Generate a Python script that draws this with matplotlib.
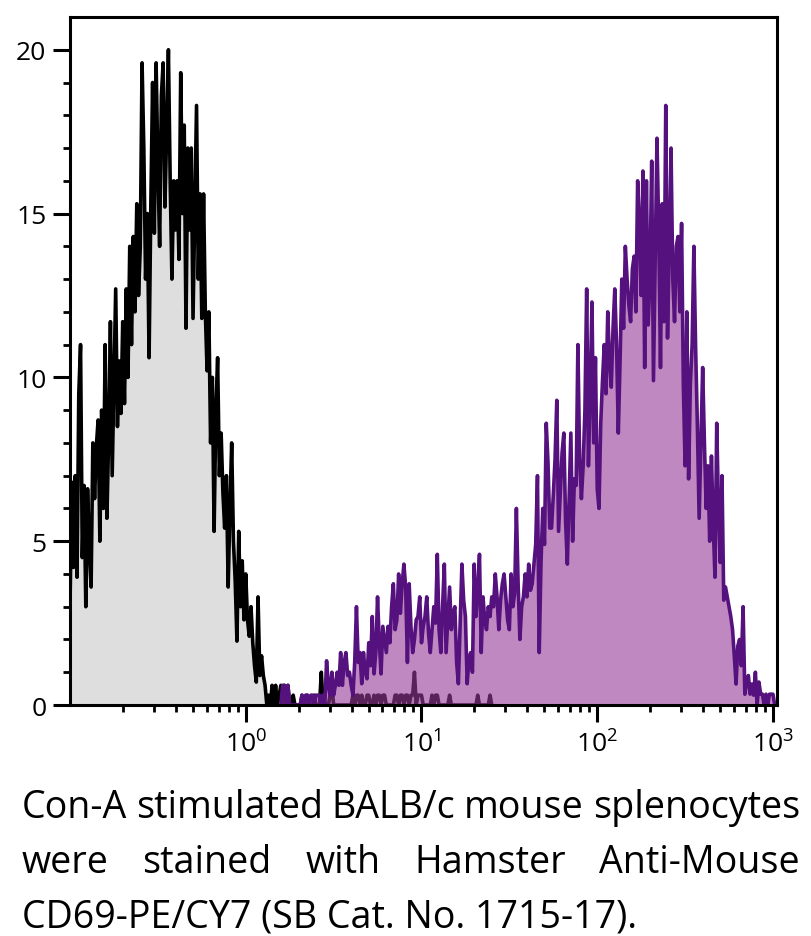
import numpy as np
import matplotlib
matplotlib.use("Agg")
import matplotlib.pyplot as plt
from matplotlib.ticker import FixedLocator, LogLocator, NullFormatter

plt.rcParams['font.family'] = ['Open Sans', 'DejaVu Sans']
plt.rcParams['mathtext.default'] = 'regular'

# --- histogram channels: 100 channels per decade, channel 0 = 10^-1 ---
CH_PER_DECADE = 100
CH0_EXP = -1

# unstained / control (grey), channel 0 ...
gray_counts = [
    3.0, 6.8, 4.2, 7.0, 3.9, 9.5, 11.0, 4.5, 6.7, 3.0,
    6.6, 4.8, 3.6, 8.0, 6.3, 7.9, 8.7, 5.0, 9.0, 6.0,
    11.0, 5.7, 8.2, 11.7, 7.0, 9.8, 12.7, 8.5, 10.5, 8.9,
    11.7, 9.2, 12.7, 10.0, 14.0, 11.0, 14.3, 12.0, 15.3, 12.5,
    14.0, 19.6, 17.0, 13.0, 15.0, 10.6, 15.3, 19.0, 14.4, 19.6,
    16.5, 14.0, 18.6, 19.6, 15.2, 17.5, 20.0, 16.0, 13.0, 16.0,
    14.5, 16.0, 13.6, 19.3, 15.0, 17.7, 11.5, 17.0, 14.5, 17.0,
    11.8, 15.0, 18.3, 13.0, 15.6, 11.8, 15.6, 12.0, 10.2, 12.0,
    8.0, 10.0, 5.3, 9.0, 10.6, 7.0, 8.3, 6.5, 5.4, 7.0,
    3.6, 6.0, 8.0, 5.0, 3.8, 1.95, 5.3, 3.0, 4.4, 2.6,
    4.0, 2.6, 2.1, 3.0, 1.9, 1.2, 0.7, 3.3, 0.9, 1.5,
    0.9, 0.6, 0.0, 0.3, 0.0, 0.6, 0.0, 0.6, 0.0, 0.3,
    0.6, 0.0, 0.6, 0.3, 0.6, 0.0, 0.0, 0.3, 0.0, 0.0,
    0.0, 0.0, 0.3, 0.0, 0.0, 0.3, 0.0, 0.0, 0.0, 0.3,
    0.0, 0.0, 0.0, 1.0, 0.0, 0.0, 0.0, 0.0, 0.3, 0.6,
    0.0, 0.0, 0.0, 0.0, 0.0, 0.0, 0.0, 0.0, 0.0, 0.0,
    0.0, 0.3, 0.0, 0.3, 0.3, 0.0, 0.3, 0.0, 0.0, 0.3,
    0.3, 0.0, 0.0, 0.3, 0.0, 0.3, 0.3, 0.0, 0.3, 0.3,
    0.0, 0.0, 0.0, 0.0, 0.0, 0.3, 0.3, 0.0, 0.3, 0.3,
    0.0, 0.3, 0.3, 0.0, 0.3, 0.3, 1.0, 0.0, 0.3, 0.3,
    0.3, 0.0, 0.0, 0.0, 0.0, 0.0, 0.3, 0.0, 0.3, 0.3,
    0.0, 0.0, 0.0, 0.0, 0.0, 0.0, 0.3, 0.0, 0.0, 0.0,
    0.0, 0.0, 0.0, 0.0, 0.0, 0.0, 0.0, 0.0, 0.0, 0.0,
    0.0, 0.0, 0.3, 0.0, 0.0, 0.0, 0.0, 0.0, 0.0, 0.3,
    0.0,
]

# CD69-PE/CY7 stained (purple), starts at channel 120
purple_first_ch = 120
purple_counts = [
    0.0, 0.6, 0.6, 0.0, 0.6, 0.0, 0.0, 0.0, 0.0, 0.0,
    0.0, 0.0, 0.3, 0.0, 0.3, 0.3, 0.0, 0.3, 0.3, 0.0,
    0.3, 0.3, 0.3, 0.0, 0.3, 0.0, 1.35, 0.6, 0.3, 1.0,
    0.3, 0.6, 1.0, 0.6, 1.6, 0.6, 1.3, 1.6, 0.9, 1.0,
    0.6, 0.3, 1.3, 3.0, 1.3, 1.6, 0.65, 1.6, 1.0, 0.8,
    1.9, 1.2, 2.7, 0.95, 1.6, 3.3, 1.9, 0.95, 2.4, 2.0,
    1.6, 2.4, 1.9, 3.0, 3.7, 2.3, 2.6, 4.0, 2.8, 3.7,
    4.3, 3.6, 1.3, 3.7, 2.4, 1.6, 2.0, 2.6, 2.7, 3.3,
    1.9, 2.4, 2.7, 3.3, 2.2, 1.6, 2.3, 3.0, 2.5, 4.6,
    2.3, 1.6, 3.0, 4.3, 1.6, 2.6, 3.6, 2.3, 2.8, 3.0,
    1.3, 0.65, 2.5, 4.3, 3.2, 2.7, 0.65, 1.4, 1.6, 1.0,
    4.3, 2.7, 3.5, 4.6, 1.6, 3.3, 2.6, 2.3, 3.0, 2.7,
    3.3, 3.0, 4.0, 3.3, 2.3, 3.2, 3.7, 4.0, 3.3, 2.6,
    2.3, 4.0, 3.0, 3.4, 6.0, 3.7, 2.0, 3.0, 3.3, 4.0,
    3.3, 4.3, 3.5, 3.7, 4.3, 4.9, 7.0, 1.6, 4.3, 6.0,
    4.9, 8.6, 7.4, 5.4, 5.4, 6.4, 7.5, 9.3, 5.3, 6.5,
    7.7, 8.3, 5.6, 4.3, 6.3, 8.3, 5.0, 6.9, 6.7, 11.0,
    7.5, 6.3, 7.3, 9.0, 12.7, 7.3, 9.5, 12.3, 8.0, 10.6,
    6.6, 6.0, 8.6, 9.9, 11.0, 9.5, 12.0, 10.5, 9.7, 11.5,
    12.7, 11.0, 8.3, 10.5, 13.0, 11.5, 14.0, 13.0, 12.2, 11.7,
    13.3, 13.7, 12.0, 16.0, 14.7, 12.5, 16.3, 10.3, 16.0, 11.6,
    13.0, 16.6, 9.9, 13.5, 17.3, 14.5, 10.3, 15.3, 11.7, 18.3,
    11.2, 14.0, 17.0, 13.0, 11.7, 14.0, 14.3, 12.0, 14.7, 9.8,
    7.3, 12.0, 6.9, 9.8, 11.0, 14.0, 10.9, 8.5, 5.7, 8.0,
    10.3, 8.0, 6.0, 7.3, 5.0, 7.6, 5.5, 3.9, 8.6, 6.0,
    4.35, 7.0, 3.2, 3.6, 3.3, 3.0, 2.7, 2.3, 1.5, 0.64,
    1.8, 2.0, 1.2, 3.0, 0.33, 0.7, 0.9, 0.33, 0.64, 0.3,
    1.0, 0.0, 0.7, 0.33, 0.33, 0.0, 0.33, 0.0, 0.33, 0.33,
    0.33, 0.0,
]

x_ticks = [1, 10, 100, 1000]
x_tick_labels = ['$10^{0}$', '$10^{1}$', '$10^{2}$', '$10^{3}$']
y_ticks = [0, 5, 10, 15, 20]

caption_lines = [
    "Con-A stimulated BALB/c mouse splenocytes",
    "were stained with Hamster Anti-Mouse",
    "CD69-PE/CY7 (SB Cat. No. 1715-17).",
]

GRAY_FILL = '#dedede'
PURPLE_FILL = '#963996'   # drawn at alpha 0.6 -> looks #c088c0 on white
PURPLE_LINE = '#55127f'

W, H = 811, 937
fig = plt.figure(figsize=(W / 100, H / 100), dpi=100)
ax = fig.add_axes([70 / W, 1 - 706 / H, (777 - 70) / W, (706 - 18) / H])

x_gray = 10 ** (CH0_EXP + np.arange(len(gray_counts)) / CH_PER_DECADE)
x_purple = 10 ** (CH0_EXP + (purple_first_ch + np.arange(len(purple_counts))) / CH_PER_DECADE)

ax.fill_between(x_gray, gray_counts, color=GRAY_FILL, lw=0, zorder=1)
ax.plot(x_gray, gray_counts, color='black', lw=2.6, zorder=2)
ax.fill_between(x_purple, purple_counts, color=PURPLE_FILL, lw=0, alpha=0.6, zorder=3)
ax.plot(x_purple, purple_counts, color=PURPLE_LINE, lw=2.6, zorder=4)

ax.set_xscale('log')
ax.set_xlim(0.1, 10 ** 3.023)
ax.set_ylim(0, 21)

ax.xaxis.set_major_locator(FixedLocator(x_ticks))
ax.set_xticklabels(x_tick_labels)
ax.xaxis.set_minor_locator(LogLocator(base=10, subs=np.arange(2, 10)))
ax.xaxis.set_minor_formatter(NullFormatter())
ax.set_yticks(y_ticks)
ax.yaxis.set_minor_locator(FixedLocator(np.arange(0, 21, 1)))

for s in ax.spines.values():
    s.set_linewidth(2.2)
    s.set_zorder(5)
ax.tick_params(which='major', length=12, width=2.2, labelsize=19, pad=5, direction='out')
ax.tick_params(which='minor', length=5, width=2.0, direction='out')
ax.tick_params(axis='x', which='major', pad=6)

# --- caption, justified like the reference ---
left_px, right_px = 22, 800
last_line_px = 615          # width of the (unjustified) last line in the reference
baselines = [818, 873, 928]
renderer = fig.canvas.get_renderer()

probe = fig.text(0, 0, caption_lines[-1], fontsize=20)
cap_fs = 20 * last_line_px / probe.get_window_extent(renderer).width
probe.remove()

for k, (line, base) in enumerate(zip(caption_lines, baselines)):
    yf = 1 - base / H
    if k == len(caption_lines) - 1:
        fig.text(left_px / W, yf, line, fontsize=cap_fs, va='baseline', ha='left')
        continue
    words = line.split()
    texts = [fig.text(0, yf, w, fontsize=cap_fs, va='baseline', ha='left') for w in words]
    widths = [t.get_window_extent(renderer).width for t in texts]
    gap = (right_px - left_px - sum(widths)) / (len(words) - 1)
    xpos = left_px
    for t, w in zip(texts, widths):
        t.set_x(xpos / W)
        xpos += w + gap

fig.savefig('out.png', dpi=100)
